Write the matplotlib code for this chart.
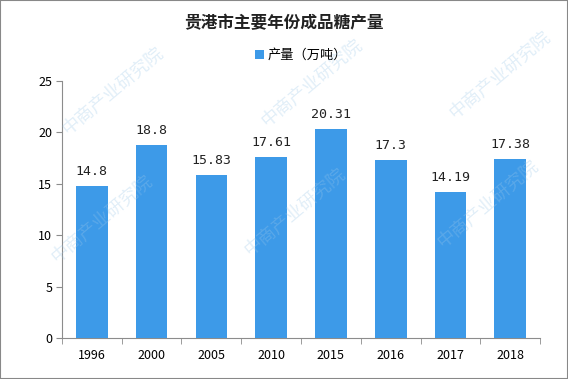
import matplotlib
matplotlib.use("Agg")
import matplotlib.pyplot as plt
from matplotlib.patches import Rectangle

plt.rcParams['font.family'] = ['Noto Sans CJK SC', 'DejaVu Sans']

# ── Datos ─────────────────────────────────────────────────────────────────────
years = ["1996", "2000", "2005", "2010", "2015", "2016", "2017", "2018"]
output = [14.8, 18.8, 15.83, 17.61, 20.31, 17.3, 14.19, 17.38]
value_labels = ["14.8", "18.8", "15.83", "17.61", "20.31", "17.3", "14.19", "17.38"]

BAR_BLUE = "#3d9ae8"
AXIS_GRAY = "#8c8c8c"

fig = plt.figure(figsize=(5.68, 3.79), dpi=100)
ax = fig.add_axes([0.109, 0.108, 0.842, 0.678])

x = range(len(years))
ax.bar(x, output, width=0.53, color=BAR_BLUE, zorder=3, label="产量（万吨）")
for xi, v, lab in zip(x, output, value_labels):
    ax.text(xi, v + 0.8, lab, ha="center", va="bottom", fontsize=9.5,
            family=["DejaVu Sans Mono"], color="#222222", zorder=4)

ax.set_xlim(-0.5, len(years) - 0.5)
ax.set_ylim(0, 25)
ax.set_yticks([0, 5, 10, 15, 20, 25])
ax.set_xticks(list(x))
ax.set_xticklabels(years)
ax.set_xticks([i + 0.5 for i in range(-1, len(years))], minor=True)
ax.tick_params(axis="x", which="major", length=0, pad=8, labelsize=9)
ax.tick_params(axis="x", which="minor", length=4, color=AXIS_GRAY)
ax.tick_params(axis="y", length=4, color=AXIS_GRAY, labelsize=9, pad=3)

for s in ["top", "right"]:
    ax.spines[s].set_visible(False)
for s in ["left", "bottom"]:
    ax.spines[s].set_color(AXIS_GRAY)

# ── Título y leyenda ──────────────────────────────────────────────────────────
fig.text(0.5, 0.94, "贵港市主要年份成品糖产量", ha="center", va="center",
         fontsize=12, fontweight="bold", color="#222222")
ax.legend(loc="center", bbox_to_anchor=(0.5, 1.10), frameon=False,
          fontsize=9.5, handlelength=0.7, handleheight=0.7, handletextpad=0.3)

# ── Marca de agua ─────────────────────────────────────────────────────────────
for wx, wy in [(0.2, 0.76), (0.55, 0.78), (0.88, 0.8),
               (0.18, 0.42), (0.52, 0.44), (0.86, 0.46)]:
    fig.text(wx, wy, "中商产业研究院", rotation=40, fontsize=13,
             color="#9cc8e8", alpha=0.3, ha="center", va="center", zorder=0)

# borde
fig.add_artist(Rectangle((0, 0), 1, 1, transform=fig.transFigure,
                         fill=False, edgecolor="#888888", linewidth=1.5))

fig.savefig("out.png", dpi=100)
